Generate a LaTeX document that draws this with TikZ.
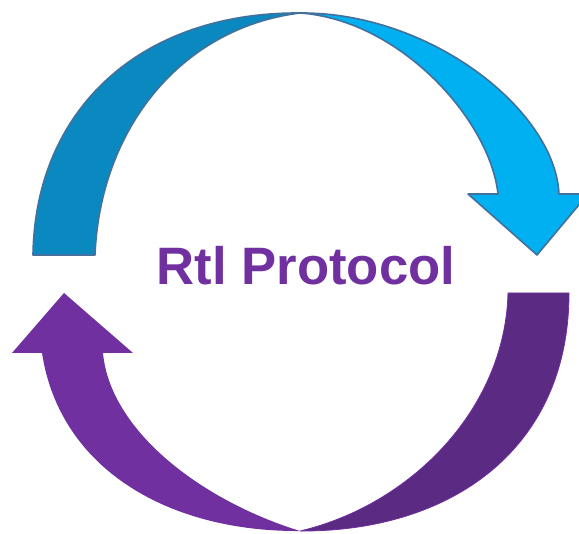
\documentclass[tikz,border=0pt]{standalone}
\usepackage{fontspec}
\setmainfont{Liberation Sans}
\definecolor{cyclight}{HTML}{00B0F0}
\definecolor{cycdark}{HTML}{0A89C1}
\definecolor{cycedge}{HTML}{41719C}
\definecolor{purlight}{HTML}{7030A0}
\definecolor{purdark}{HTML}{5B2A82}
\tikzset{
  topband/.style={draw=cycedge, line width=1.2pt, line join=round},
  lowband/.style={line join=round},
  title/.style={font=\bfseries\fontsize{39.5}{40}\selectfont, text=purlight, inner sep=0pt}
}
\begin{document}
\begin{tikzpicture}[x=0.75pt, y=-0.75pt]
\useasboundingbox (0,0) rectangle (579,534);
\clip (0,0) rectangle (579,534);

% upper arrow: back half (darker)
\path[topband, fill=cycdark]
  (33,255) .. controls (35,110) and (140,12) .. (300,13)
  .. controls (180,28) and (100,130) .. (95,255)
  -- cycle;

% upper arrow: front half with head
\path[topband, fill=cyclight]
  (300,13) .. controls (430,12) and (555,110) .. (559,194)
  -- (588,194) -- (537,255) -- (468,194) -- (498,194)
  .. controls (490,120) and (400,20) .. (300,13)
  -- cycle;

% lower arrow: back half (darker)
\path[lowband, fill=purdark, draw=purlight, line width=0.6pt]
  (569,293) .. controls (569,450) and (450,532) .. (300,531)
  .. controls (410,505) and (505,410) .. (508,293)
  -- cycle;

% lower arrow: front half with head
\path[lowband, fill=purlight]
  (300,531) .. controls (170,532) and (60,470) .. (42,353)
  -- (12,353) -- (64,293) -- (133,353) -- (103,353)
  .. controls (110,430) and (200,500) .. (300,531)
  -- cycle;

\node[title, anchor=base] (lbl) at (306,285) {Rtl Protocol};
\end{tikzpicture}
\end{document}
